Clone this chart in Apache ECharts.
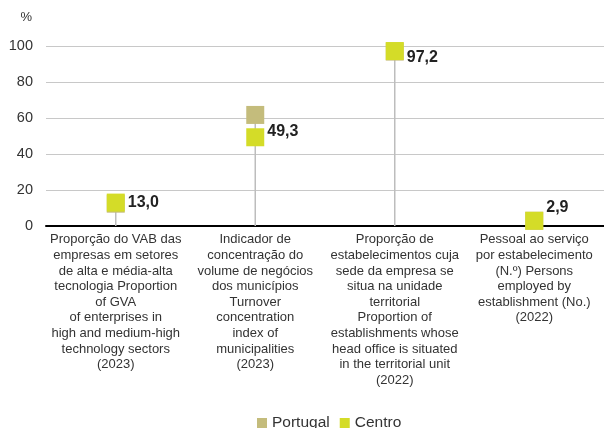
<!DOCTYPE html>
<html>
<head>
<meta charset="utf-8">
<script src="https://cdn.jsdelivr.net/npm/echarts@6/dist/echarts.min.js"></script>
<style>
  html, body { margin: 0; padding: 0; background: #fff; }
  #chart { width: 604px; height: 428px; }
</style>
</head>
<body>
<div id="chart"></div>
<script>
// categorias (quebras de linha como no original)
const categories = [
  'Proporção do VAB das\nempresas em setores\nde alta e média-alta\ntecnologia Proportion\nof GVA\nof enterprises in\nhigh and medium-high\ntechnology sectors\n(2023)',
  'Indicador de\nconcentração do\nvolume de negócios\ndos municípios\nTurnover\nconcentration\nindex of\nmunicipalities\n(2023)',
  'Proporção de\nestabelecimentos cuja\nsede da empresa se\nsitua na unidade\nterritorial\nProportion of\nestablishments whose\nhead office is situated\nin the territorial unit\n(2022)',
  'Pessoal ao serviço\npor estabelecimento\n(N.º) Persons\nemployed by\nestablishment (No.)\n(2022)'
]
const portugal = [12.4, 61.7, 96.9, 2.9]
const centro = [13.0, 49.3, 97.2, 2.9]
const yTicks = [0, 20, 40, 60, 80, 100]

// deslocamento manual dos rótulos (como no gráfico original)
const labelOffsets = [[0, 0], [0, -6], [0, 7], [0, -13]]

const fmt = (v) => v.toFixed(1).replace('.', ',')

const chart = echarts.init(document.getElementById('chart'))

const option = {
  backgroundColor: '#fff',
  animation: false,
  textStyle: { fontFamily: "'Liberation Sans', Arial, sans-serif" },
  grid: { left: 46, right: -2, top: 46, bottom: 202 },
  legend: {
    data: ['Portugal', 'Centro'],
    top: 410,
    left: 252,
    icon: 'rect',
    itemWidth: 10,
    itemHeight: 10,
    itemGap: 10,
    textStyle: { color: '#333', fontSize: 15.5 }
  },
  xAxis: {
    type: 'category',
    data: categories,
    axisLine: { lineStyle: { color: '#000', width: 2 } },
    axisTick: { show: false },
    axisLabel: {
      interval: 0,
      margin: 6,
      color: '#333',
      fontSize: 13,
      lineHeight: 15.6
    }
  },
  yAxis: {
    type: 'value',
    min: yTicks[0],
    max: yTicks[yTicks.length - 1],
    interval: 20,
    name: '%',
    nameLocation: 'end',
    nameGap: 22,
    nameTextStyle: { color: '#333', fontSize: 13, align: 'right', padding: [0, 14, 0, 0] },
    axisLine: { show: false },
    axisTick: { show: false },
    axisLabel: { color: '#333', fontSize: 14.5, margin: 13 },
    splitLine: { lineStyle: { color: '#c8c8c8', width: 1 } }
  },
  series: [
    {
      // linhas verticais até ao valor mais alto
      type: 'custom',
      silent: true,
      z: 1,
      data: categories.map((c, i) => [i, Math.max(portugal[i], centro[i])]),
      renderItem: (params, api) => {
        const p0 = api.coord([api.value(0), 0])
        const p1 = api.coord([api.value(0), api.value(1)])
        return {
          type: 'line',
          shape: { x1: p0[0], y1: p0[1], x2: p1[0], y2: p1[1] },
          style: { stroke: '#bdbdbd', lineWidth: 1.5 }
        }
      }
    },
    {
      name: 'Portugal',
      type: 'scatter',
      z: 2,
      symbol: 'rect',
      symbolSize: 18,
      itemStyle: { color: '#c4bc7c', opacity: 1 },
      data: portugal
    },
    {
      name: 'Centro',
      type: 'scatter',
      z: 3,
      symbol: 'rect',
      symbolSize: 18,
      itemStyle: { color: '#d4dc28', opacity: 1 },
      label: {
        show: true,
        position: 'right',
        distance: 3,
        color: '#222',
        fontSize: 16,
        fontWeight: 'bold',
        formatter: (p) => fmt(p.value)
      },
      data: centro.map((v, i) => ({ value: v, label: { offset: labelOffsets[i] } }))
    }
  ]
}

chart.setOption(option)
</script>
</body>
</html>
